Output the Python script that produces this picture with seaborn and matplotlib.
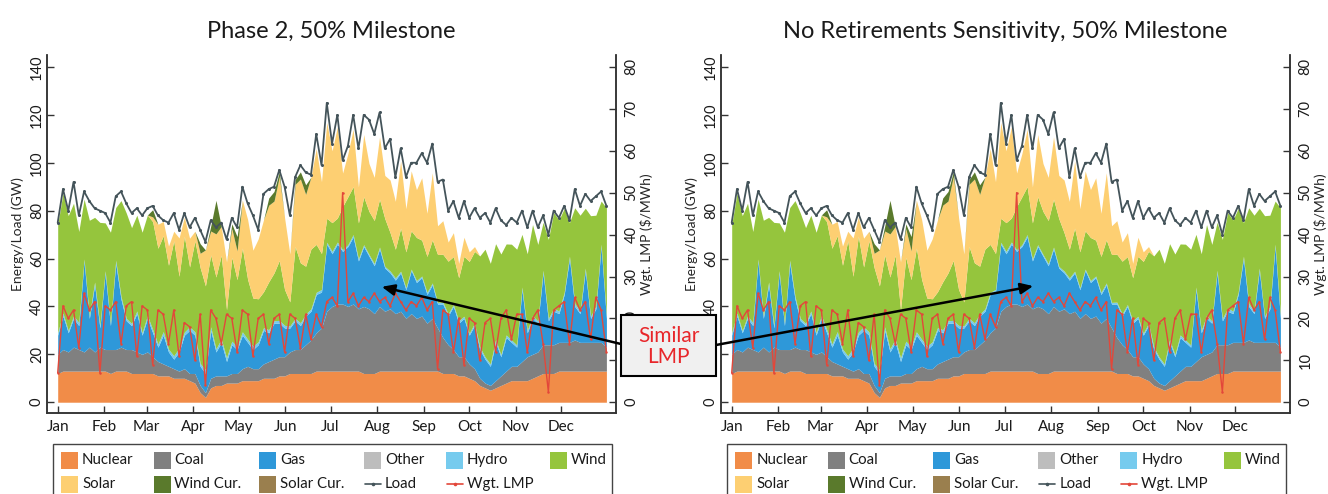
import numpy as np
import pandas as pd
import matplotlib
matplotlib.use("Agg")
import matplotlib.pyplot as plt
from matplotlib.patches import Rectangle
from matplotlib.lines import Line2D
import seaborn as sns

# ---------------- data (GW, sampled twice a week through the year) ----------------
nuclear = [12, 13, 13, 13, 13, 13, 13, 13, 13, 13,
           12, 13, 13, 13, 12, 12, 12, 12, 12, 11,
           11, 11, 10, 10, 10, 9, 8, 4, 2, 6,
           7, 7, 8, 8, 8, 9, 9, 9, 9, 10,
           10, 10, 11, 11, 12, 12, 12, 12, 12, 13,
           13, 13, 13, 13, 13, 13, 13, 13, 12, 12,
           12, 13, 13, 13, 13, 13, 13, 13, 13, 13,
           13, 13, 13, 12, 12, 12, 11, 11, 10, 9,
           7, 6, 5, 6, 7, 8, 9, 9, 9, 9,
           10, 11, 12, 12, 12, 13, 13, 13, 13, 13,
           13, 13, 13, 13, 13]
coal = [8, 9, 8, 10, 9, 8, 10, 8, 10, 9,
        10, 9, 10, 9, 10, 9, 8, 9, 7, 6,
        5, 4, 4, 3, 4, 3, 4, 3, 2, 4,
        4, 4, 3, 4, 4, 5, 6, 5, 5, 6,
        7, 8, 8, 8, 9, 10, 10, 12, 14, 16,
        18, 25, 27, 28, 28, 27, 28, 26, 28, 27,
        25, 27, 25, 26, 24, 25, 22, 24, 22, 23,
        20, 22, 18, 15, 12, 10, 8, 8, 6, 5,
        3, 2, 2, 3, 4, 5, 6, 6, 8, 10,
        10, 10, 12, 12, 12, 12, 12, 12, 13, 12,
        12, 12, 12, 12, 10]
gas = [8, 14, 8, 12, 10, 38, 12, 28, 8, 32,
       10, 36, 20, 12, 10, 16, 8, 14, 10, 6,
       12, 6, 4, 8, 14, 18, 16, 8, 8, 20,
       10, 14, 6, 12, 10, 14, 10, 8, 10, 14,
       12, 15, 14, 12, 10, 12, 10, 12, 12, 16,
       15, 28, 22, 25, 22, 25, 28, 20, 25, 22,
       20, 24, 18, 15, 14, 16, 12, 18, 15, 16,
       12, 14, 10, 14, 12, 18, 14, 16, 12, 18,
       12, 10, 8, 16, 8, 14, 10, 8, 30, 10,
       15, 12, 30, 10, 14, 12, 20, 35, 14, 12,
       30, 10, 14, 40, 12]
hydro = [1.0, 1.2, 0.9, 1.1, 1.3, 0.8, 1.0, 1.2, 1.1, 0.9,
         1.0, 1.3, 1.2, 1.0, 0.9, 1.1, 1.0, 1.2, 1.4, 1.3,
         1.5, 1.2, 1.4, 1.6, 1.3, 1.5, 1.4, 1.2, 1.6, 1.5,
         1.3, 1.4, 1.6, 1.5, 1.2, 1.4, 1.3, 1.5, 1.2, 1.1,
         1.3, 1.0, 1.2, 1.1, 0.9, 1.0, 1.2, 0.8, 1.0, 0.9,
         1.1, 0.8, 1.0, 0.9, 0.7, 0.8, 1.0, 0.9, 0.8, 0.7,
         0.9, 0.8, 0.7, 0.8, 0.9, 0.7, 0.8, 0.6, 0.8, 0.7,
         0.9, 0.8, 0.7, 0.8, 0.9, 0.8, 1.0, 0.9, 0.8, 1.0,
         1.1, 0.9, 1.0, 1.2, 0.9, 1.1, 1.0, 0.9, 1.1, 1.0,
         1.2, 0.9, 1.1, 1.0, 1.2, 1.1, 0.9, 1.0, 1.2, 1.1,
         1.0, 0.9, 1.1, 1.0, 1.2]
wind = [45, 50, 48, 47, 38, 25, 40, 27, 43, 20,
        38, 22, 40, 44, 40, 40, 42, 42, 45, 40,
        40, 35, 48, 30, 40, 25, 38, 40, 35, 30,
        30, 35, 20, 35, 28, 35, 25, 20, 18, 15,
        20, 20, 25, 15, 10, 30, 25, 20, 25, 20,
        15, 10, 12, 10, 18, 20, 20, 15, 20, 18,
        18, 20, 20, 16, 12, 18, 15, 16, 18, 15,
        15, 18, 20, 20, 22, 20, 18, 25, 30, 30,
        38, 45, 42, 40, 42, 38, 40, 40, 22, 32,
        38, 32, 20, 33, 40, 38, 35, 14, 40, 40,
        25, 42, 38, 18, 45]
solar = [0, 0, 0, 0, 0, 0, 0, 0, 0, 0,
         0, 0, 0, 0, 0, 0, 0, 0, 2, 10,
         6, 8, 4, 16, 8, 12, 4, 6, 15, 10,
         18, 12, 20, 12, 12, 20, 25, 20, 25, 30,
         32, 30, 35, 30, 20, 26, 35, 30, 30, 40,
         30, 40, 30, 38, 14, 18, 24, 15, 26, 20,
         18, 26, 18, 22, 20, 28, 18, 25, 20, 26,
         18, 28, 12, 14, 8, 10, 6, 8, 4, 2,
         0, 0, 0, 0, 0, 0, 0, 0, 0, 0,
         0, 0, 0, 0, 0, 0, 0, 0, 0, 0,
         0, 0, 0, 0, 0]
wind_cur = [0, 0, 0, 0, 0, 0, 0, 0, 0, 0,
            0, 0, 0, 0, 0, 0, 0, 0, 3, 0,
            0, 0, 0, 0, 0, 0, 0, 4, 0, 2,
            14, 0, 0, 2, 6, 0, 0, 0, 0, 0,
            3, 4, 2, 0, 0, 2, 3, 4, 0, 0,
            0, 0, 0, 0, 0, 0, 0, 0, 0, 0,
            0, 0, 0, 0, 0, 0, 0, 0, 0, 0,
            0, 0, 0, 0, 0, 0, 0, 0, 0, 0,
            0, 0, 0, 0, 0, 0, 0, 0, 0, 0,
            0, 0, 0, 0, 0, 0, 0, 0, 0, 0,
            0, 0, 0, 0, 0]
load_gw = [75, 89, 80, 92, 78, 88, 84, 81, 80, 79,
           75, 86, 88, 83, 79, 81, 78, 81, 82, 78,
           76, 75, 79, 72, 79, 73, 77, 72, 67, 76,
           73, 75, 68, 77, 73, 90, 83, 78, 72, 87,
           89, 90, 97, 90, 78, 94, 99, 96, 95, 112,
           99, 125, 108, 120, 101, 107, 120, 106, 120, 118,
           112, 121, 106, 110, 94, 106, 94, 100, 100, 104,
           100, 108, 92, 93, 80, 84, 77, 84, 77, 81,
           77, 79, 75, 81, 76, 74, 77, 75, 80, 73,
           80, 73, 78, 70, 80, 77, 82, 76, 89, 82,
           87, 84, 86, 88, 82]
# weighted LMP ($/MWh)
lmp = [7, 23, 20, 22, 13, 26, 22, 24, 7, 23,
       22, 24, 14, 23, 24, 11, 23, 22, 9, 22,
       21, 14, 22, 11, 19, 18, 10, 21, 4, 22,
       20, 14, 21, 20, 12, 22, 21, 11, 20, 21,
       14, 20, 21, 12, 21, 20, 13, 21, 15, 21,
       18, 24, 25, 23, 50, 24, 26, 23, 25, 24,
       26, 24, 25, 23, 26, 24, 22, 24, 23, 25,
       22, 24, 8, 22, 21, 12, 20, 9, 20, 19,
       10, 19, 20, 12, 20, 22, 15, 21, 21, 12,
       20, 22, 14, 2.5, 22, 23, 24, 14, 25, 22,
       24, 15, 25, 22, 12]

month_labels = ["Jan", "Feb", "Mar", "Apr", "May", "Jun",
                "Jul", "Aug", "Sep", "Oct", "Nov", "Dec"]
titles = ["Phase 2, 50% Milestone", "No Retirements Sensitivity, 50% Milestone"]
legend_rows = [["Nuclear", "Coal", "Gas", "Other", "Hydro", "Wind"],
               ["Solar", "Wind Cur.", "Solar Cur.", "Load", "Wgt. LMP"]]

# ---------------- style ----------------
C = {
    "Nuclear": "#F18C48", "Coal": "#808080", "Gas": "#2E98D9", "Other": "#BDBDBD",
    "Hydro": "#76CBEE", "Wind": "#95C53D", "Solar": "#FDCF72", "Wind Cur.": "#5A7A2C",
    "Solar Cur.": "#9A7F4E", "Load": "#44545A", "Wgt. LMP": "#E3473A",
}
AX_C = "#333333"

sns.set_theme(style="white")
plt.rcParams["font.family"] = ["Lato", "DejaVu Sans"]
plt.rcParams["text.color"] = "#1a1a1a"

dates = pd.date_range("2030-01-01", "2030-12-31", periods=len(load_gw))
day = ((dates - dates[0]) / pd.Timedelta(days=1)).to_numpy()
month_pos = ((pd.date_range("2030-01-01", periods=12, freq="MS") - dates[0])
             / pd.Timedelta(days=1)).to_numpy()

W, H = 1328, 494
fig = plt.figure(figsize=(W / 100, H / 100), dpi=100)


def fx(px):
    return px / W


def fy(py):
    return 1 - py / H


GW_LIM = (-4.5, 145.0)
RATIO = 140.0 / 80.0


def panel(left_px, title):
    ax = fig.add_axes([fx(left_px), fy(413), 569.5 / W, (413 - 55) / H])
    ax.stackplot(day, nuclear, coal, gas, hydro, wind, solar, wind_cur,
                 colors=[C["Nuclear"], C["Coal"], C["Gas"], C["Hydro"], C["Wind"],
                         C["Solar"], C["Wind Cur."]], linewidth=0)
    sns.lineplot(x=day, y=load_gw, ax=ax, color=C["Load"], linewidth=1.3,
                 marker="o", markersize=2.2, markeredgewidth=0, zorder=5)
    ax.set_xlim(-7.3, 370.5)
    ax.set_ylim(*GW_LIM)
    ax.set_xticks(month_pos)
    ax.set_xticklabels(month_labels, fontsize=11)
    ax.set_yticks(range(0, 141, 20))
    ax.tick_params(axis="both", direction="in", length=5, width=1, colors=AX_C,
                   labelcolor="#1a1a1a", bottom=True, left=True)
    ax.tick_params(axis="x", pad=5)
    ax.tick_params(axis="y", pad=2, labelsize=10.5)
    for lab in ax.get_yticklabels():
        lab.set_rotation(90)
        lab.set_va("center")
    ax.set_ylabel("Energy/Load (GW)", fontsize=10, labelpad=4)
    ax.set_xlabel("")
    ax.set_title(title, fontsize=17, pad=12)

    axr = ax.twinx()
    sns.lineplot(x=day, y=lmp, ax=axr, color=C["Wgt. LMP"], linewidth=1.0,
                 marker="o", markersize=1.8, markeredgewidth=0)
    axr.set_ylim(GW_LIM[0] / RATIO, GW_LIM[1] / RATIO)
    axr.set_yticks(range(0, 81, 10))
    axr.tick_params(axis="y", direction="in", length=5, width=1, colors=AX_C,
                    labelcolor="#1a1a1a", right=True, left=False, pad=6, labelsize=10.5)
    for lab in axr.get_yticklabels():
        lab.set_rotation(90)
        lab.set_va("center")
    axr.set_ylabel(r"Wgt. LMP (\$/MWh)", fontsize=10, labelpad=1)
    axr.set_xlabel("")

    for a in (ax, axr):
        a.spines["top"].set_visible(False)
        for s in ("left", "bottom", "right"):
            a.spines[s].set_color(AX_C)
            a.spines[s].set_linewidth(1.1)
    return ax, axr


def legend_at(left_px):
    # frame (runs past the bottom edge, as in the original)
    fig.add_artist(Rectangle((fx(left_px), fy(502)), 559.5 / W, (502 - 444) / H,
                             transform=fig.transFigure, facecolor="white",
                             edgecolor="#444444", linewidth=1.0, zorder=2))
    col_x = [8.3, 100.8, 206.3, 311.3, 393.3, 496.9]
    row_y = [460, 484]
    for r, names in enumerate(legend_rows):
        yc = row_y[r]
        for c, name in enumerate(names):
            x0 = left_px + col_x[c]
            if name in ("Load", "Wgt. LMP"):
                fig.add_artist(Line2D([fx(x0 + 1), fx(x0 + 17)], [fy(yc), fy(yc)],
                                      transform=fig.transFigure, color=C[name], lw=1.2,
                                      zorder=3))
                fig.add_artist(Line2D([fx(x0 + 9)], [fy(yc)], transform=fig.transFigure,
                                      color=C[name], marker="o", markersize=2.6,
                                      markeredgewidth=0, lw=0, zorder=3))
            else:
                fig.add_artist(Rectangle((fx(x0), fy(yc + 8.5)), 17 / W, 17 / H,
                                         transform=fig.transFigure, facecolor=C[name],
                                         edgecolor="none", zorder=3))
            fig.text(fx(x0 + 21), fy(yc), name, ha="left", va="center",
                     fontsize=10.8, zorder=4)


axL, axLr = panel(46.7, titles[0])
axR, axRr = panel(720.7, titles[1])
legend_at(52.7)
legend_at(726.9)

# ---------------- "Similar LMP" call-out ----------------
box = Rectangle((fx(621), fy(376)), 95 / W, 61 / H, transform=fig.transFigure,
                facecolor="#F0F0F0", edgecolor="black", linewidth=1.5, zorder=10)
fig.add_artist(box)
fig.text(fx(668.5), fy(346.5), "Similar\nLMP", ha="center", va="center",
         color="#E8262A", fontsize=15, linespacing=1.1, zorder=11)

arrow = dict(arrowstyle="-|>,head_length=0.5,head_width=0.22", color="black",
             lw=1.8, mutation_scale=15, shrinkA=0, shrinkB=0)
axLr.annotate("", xy=(215, 48.2), xycoords=axL.transData,
              xytext=(fx(621), fy(344)), textcoords="figure fraction",
              arrowprops=arrow)
axRr.annotate("", xy=(200, 48.5), xycoords=axR.transData,
              xytext=(fx(716), fy(345)), textcoords="figure fraction",
              arrowprops=arrow)

fig.savefig("out.png", dpi=100)
